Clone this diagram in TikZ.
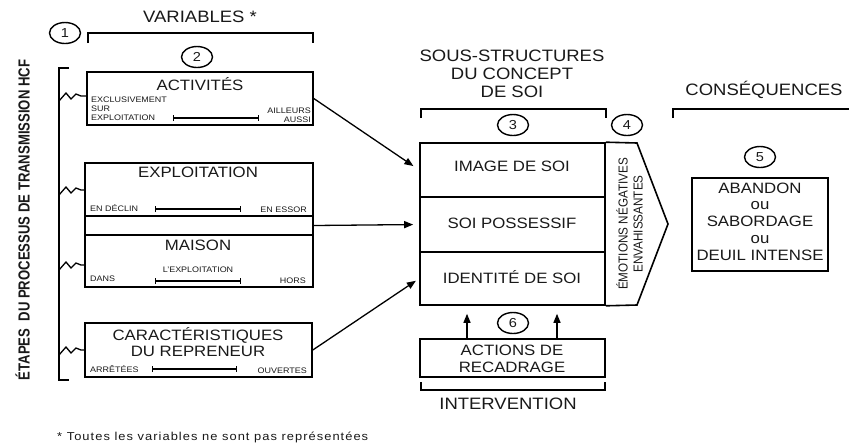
\documentclass[tikz,border=0pt]{standalone}
\usepackage{fontspec}
\setmainfont{Liberation Sans}[FakeStretch=1.12]
\newfontfamily\vfont{Liberation Sans}[FakeStretch=0.82]
\newfontfamily\efont{Liberation Sans}[FakeStretch=0.9]
\newfontfamily\ffont{Liberation Sans}[FakeStretch=1.12, LetterSpace=9]
\usetikzlibrary{arrows.meta,shapes.geometric}
\newcommand\fsz[2]{\fontsize{#1}{#2}\selectfont}
\begin{document}
\begin{tikzpicture}[x=1pt,y=-1pt,
  box/.style={draw, rectangle, line width=1.6pt, inner sep=0pt},
  num/.style={draw, ellipse, line width=1.4pt, minimum width=31pt, minimum height=21pt, inner sep=0pt, text=black!90, font=\fsz{13}{15}},
  ttl/.style={inner sep=0pt, text=black!90, align=center, font=\fsz{16.5}{17.8}},
  btxt/.style={inner sep=0pt, text=black!90, align=center, font=\fsz{15}{16.5}},
  small/.style={inner sep=0pt, text=black!90, font=\fsz{8}{9}},
  arr/.style={line width=1.3pt, -{Triangle[length=9pt,width=7pt]}},
  brk/.style={line width=1.5pt},
  zz/.style={line width=1.3pt, line join=miter},
  ibar/.style={line width=1.8pt, {Bar[width=6pt,line width=1.3pt]}-{Bar[width=6pt,line width=1.3pt]}}
]
\useasboundingbox[fill=white] (0,0) rectangle (849,445);

% ---- left column: variables ----
\node[ttl] (varT) at (200,17) {VARIABLES *};
\node[num] (n1) at (65,33) {1};
\draw[brk] (88,43) -- (88,33) -- (313,33) -- (313,43);
\node[num] (n2) at (197,57) {2};

\node[inner sep=0pt, text=black!90, rotate=90, font=\vfont\bfseries\fsz{16}{18}] (etapes) at (22.5,220) {ÉTAPES~~DU PROCESSUS DE TRANSMISSION HCF};
\draw[brk] (69,68) -- (59,68) -- (59,380) -- (69,380);

% ACTIVITES
\node[box, minimum width=226pt, minimum height=53pt] (act) at (200,98.5) {};
\node[btxt] (actT) at (200,84) {ACTIVITÉS};
\node[small, anchor=west, align=left] (actL) at (91,108.5) {EXCLUSIVEMENT\\SUR\\EXPLOITATION};
\node[small, anchor=east, align=right] (actR) at (311,115) {AILLEURS\\AUSSI};
\draw[ibar] (173,118) -- (259,118);
\draw[zz] (59,101) -- ++(7,-8) -- ++(5,6) -- ++(5,-5) -- ++(5,2) -- (act.west |- 0,96);

% EXPLOITATION / MAISON
\node[box, minimum width=228pt, minimum height=53pt] (expl) at (199,189.5) {};
\node[box, minimum width=228pt, minimum height=19pt] (gap) at (199,225.5) {};
\node[box, minimum width=228pt, minimum height=52pt] (mais) at (199,261) {};
\node[btxt] (explT) at (198,172) {EXPLOITATION};
\node[small, anchor=west] (explL) at (90,208.5) {EN DÉCLIN};
\node[small, anchor=east] (explR) at (307,209.5) {EN ESSOR};
\draw[ibar] (155,209) -- (241,209);
\node[btxt] (maisT) at (198,245) {MAISON};
\node[small] (maisC) at (198,270) {L'EXPLOITATION};
\node[small, anchor=west] (maisL) at (90,279) {DANS};
\node[small, anchor=east] (maisR) at (306,281) {HORS};
\draw[ibar] (155,281) -- (241,281);
\draw[zz] (59,195) -- ++(7,-8) -- ++(5,6) -- ++(5,-5) -- ++(5,2) -- (expl.west |- 0,190);
\draw[zz] (59,270) -- ++(7,-8) -- ++(5,6) -- ++(5,-5) -- ++(5,2) -- (mais.west |- 0,265);

% CARACTERISTIQUES
\node[box, minimum width=227pt, minimum height=54pt] (car) at (198.5,350) {};
\node[btxt] (carT) at (198,342) {CARACTÉRISTIQUES\\DU REPRENEUR};
\node[small, anchor=west] (carL) at (90,369) {ARRÊTÉES};
\node[small, anchor=east] (carR) at (307,370.5) {OUVERTES};
\draw[ibar] (152,369) -- (237,369);
\draw[zz] (59,355) -- ++(7,-8) -- ++(5,6) -- ++(5,-5) -- ++(5,2) -- (car.west |- 0,350);

\node[inner sep=0pt, anchor=west, text=black!90, font=\ffont\fsz{11.5}{13}] (foot) at (57,437) {* Toutes les variables ne sont pas représentées};

% ---- centre: sous-structures ----
\node[ttl] (ssT) at (512,74) {SOUS-STRUCTURES\\DU CONCEPT\\DE SOI};
\draw[brk] (421,118) -- (421,109) -- (606,109) -- (606,118);
\node[num] (n3) at (513,125) {3};
\node[num] (n4) at (627,125) {4};

\node[box, minimum width=185pt, minimum height=54pt] (img) at (512.5,170) {};
\node[box, minimum width=185pt, minimum height=55pt] (poss) at (512.5,224.5) {};
\node[box, minimum width=185pt, minimum height=53pt] (ident) at (512.5,278.5) {};
\node[btxt] (imgT) at (512,166) {IMAGE DE SOI};
\node[btxt] (possT) at (512,223) {SOI POSSESSIF};
\node[btxt] (identT) at (512,277) {IDENTITÉ DE SOI};

\coordinate (pTR) at (637,143);
\coordinate (pTip) at (668,224);
\coordinate (pBR) at (637,305);
\draw[line width=1.6pt, line join=miter] (img.north east) -- (pTR) -- (pTip) -- (pBR) -- (ident.south east);
\node[inner sep=0pt, text=black!90, rotate=90, align=center, font=\efont\fsz{13}{15}] (emo) at (629.5,224) {ÉMOTIONS NÉGATIVES\\ENVAHISSANTES};

% arrows from variables
\draw[arr, shorten >=7pt] (act.east) -- (img.west);
\draw[arr, shorten >=6pt] (gap.east) -- (poss.west);
\draw[arr, shorten >=4pt] (car.east) -- (ident.west);

% intervention
\node[box, minimum width=185pt, minimum height=38pt] (actions) at (512.5,358) {};
\node[btxt, font=\fsz{15}{17}] (actionsT) at (512,358.5) {ACTIONS DE\\RECADRAGE};
\coordinate (c1) at (467,0);
\coordinate (c2) at (557,0);
\draw[arr, shorten >=8pt] (actions.north -| c1) -- (ident.south -| c1);
\draw[arr, shorten >=8pt] (actions.north -| c2) -- (ident.south -| c2);
\node[num] (n6) at (513,323) {6};
\draw[brk] (421,382) -- (421,390) -- (605,390) -- (605,382);
\node[ttl] (intT) at (508,404) {INTERVENTION};

% ---- consequences ----
\node[ttl] (consT) at (764,90) {CONSÉQUENCES};
\draw[brk] (673,118) -- (673,109) -- (849,109);
\node[num] (n5) at (760,157) {5};
\node[box, minimum width=136pt, minimum height=93pt] (cons) at (760,224.5) {};
\node[btxt, font=\fsz{15}{16.75}] (consTxt) at (760,221.5) {ABANDON\\ou\\SABORDAGE\\ou\\DEUIL INTENSE};
\end{tikzpicture}
\end{document}
